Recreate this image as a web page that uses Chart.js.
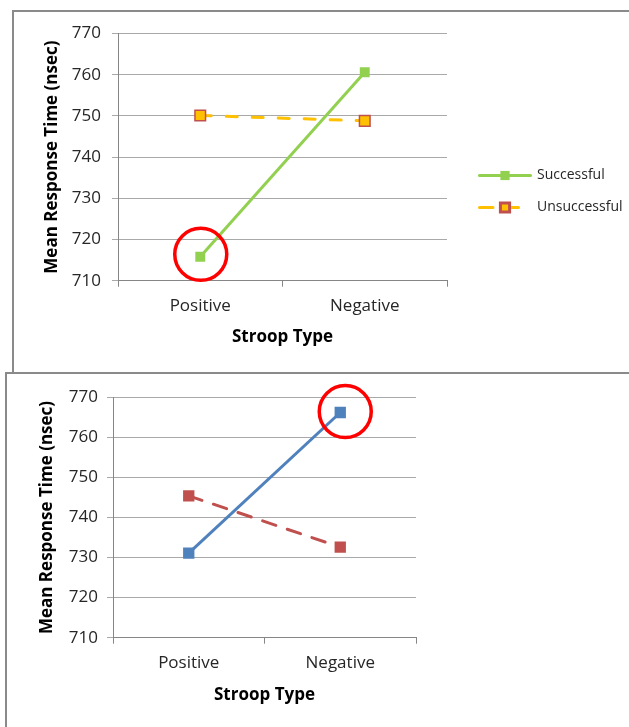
<!DOCTYPE html>
<html>
<head>
<meta charset="utf-8">
<script src="https://cdn.jsdelivr.net/npm/chart.js@4/dist/chart.umd.min.js"></script>
<style>
  html, body { margin: 0; padding: 0; background: #fff; overflow: hidden; width: 629px; height: 727px; }
  .panel { position: absolute; border-left: 2px solid #8a8a8a; border-top: 2px solid #8a8a8a; background: #fff; box-sizing: border-box; }
  canvas { position: absolute; left: 0; }
</style>
</head>
<body>
<div class="panel" style="left:12px; top:10px; width:640px; height:362px;"></div>
<canvas id="top" width="629" height="372" style="top:0"></canvas>
<div class="panel" style="left:5px; top:372px; width:640px; height:400px;"></div>
<canvas id="bottom" width="629" height="355" style="top:372px"></canvas>
<script>
// Categories and series
const categories = ['Positive', 'Negative'];
const successful = [715.8, 760.6];
const unsuccessful = [750.1, 748.8];
const engaged = [731.1, 766.2];
const notEngaged = [745.4, 732.6];

// Value axis ticks
const yTickValues = [710, 720, 730, 740, 750, 760, 770];

const xTitle = 'Stroop Type';
const yTitle = 'Mean Response Time (nsec)';

const FONT = "'Open Sans', 'DejaVu Sans', sans-serif";
const GRID = '#a9a9a9';
const AXIS = '#868686';
const TEXT = '#262626';

// Legend drawn as line + marker samples to the right of the plot
const seriesLegend = {
  id: 'seriesLegend',
  afterDraw(chart, args, opts) {
    const ctx = chart.ctx;
    chart.data.datasets.forEach((ds, i) => {
      const y = opts.top + i * opts.rowGap;
      const x0 = opts.left;
      const x1 = opts.left + opts.sampleWidth;
      const c = (x0 + x1) / 2;
      ctx.save();
      ctx.strokeStyle = ds.borderColor;
      ctx.lineWidth = ds.borderWidth;
      ctx.lineCap = 'round';
      ctx.beginPath();
      if (ds.borderDash && ds.borderDash.length) {
        ctx.moveTo(x0 + 1.5, y); ctx.lineTo(x0 + opts.dash, y);
        ctx.moveTo(c, y); ctx.lineTo(c + opts.dash - 1.5, y);
      } else {
        ctx.moveTo(x0 + 1.5, y); ctx.lineTo(x1 - 1.5, y);
      }
      ctx.stroke();
      ctx.fillStyle = ds.pointBackgroundColor;
      ctx.strokeStyle = ds.pointBorderColor;
      Chart.helpers.drawPoint(ctx, {
        pointStyle: 'rect', radius: opts.markerRadius,
        borderWidth: ds.pointBorderWidth, rotation: 0
      }, c, y);
      ctx.fillStyle = TEXT;
      ctx.font = opts.fontSize + 'px ' + FONT;
      ctx.textBaseline = 'middle';
      ctx.textAlign = 'left';
      ctx.fillText(ds.label, opts.textLeft, y);
      ctx.restore();
    });
  }
};

// Red ring around a highlighted point
const highlightRing = {
  id: 'highlightRing',
  afterDatasetsDraw(chart, args, opts) {
    const meta = chart.getDatasetMeta(opts.datasetIndex);
    const pt = meta.data[opts.index];
    if (!pt) return;
    const ctx = chart.ctx;
    ctx.save();
    ctx.strokeStyle = opts.color;
    ctx.lineWidth = opts.width;
    ctx.beginPath();
    ctx.arc(pt.x + opts.dx, pt.y + opts.dy, opts.radius, 0, Math.PI * 2);
    ctx.stroke();
    ctx.restore();
  }
};

function makeChart(id, datasets, geo, legendOpts, ringOpts) {
  return new Chart(document.getElementById(id), {
    type: 'line',
    data: { labels: categories, datasets },
    options: {
      responsive: false,
      animation: false,
      devicePixelRatio: 1,
      layout: { padding: { left: geo.padL, right: geo.padR, top: geo.padT, bottom: geo.padB } },
      plugins: {
        legend: { display: false },
        tooltip: { enabled: false },
        seriesLegend: legendOpts,
        highlightRing: ringOpts
      },
      elements: { line: { tension: 0 } },
      scales: {
        x: {
          type: 'category',
          offset: true,
          grid: { offset: true, drawOnChartArea: false, drawTicks: true, tickLength: 6, color: AXIS },
          border: { color: AXIS, width: 1 },
          ticks: { color: TEXT, font: { family: FONT, size: 17 }, padding: geo.xTickPad },
          title: { display: true, text: xTitle, color: '#000', font: { family: FONT, size: 17, weight: 'bold', lineHeight: 1.2 }, padding: { top: 4, bottom: 4 } },
          afterFit(scale) { scale.height = geo.xHeight; }
        },
        y: {
          min: yTickValues[0],
          max: yTickValues[yTickValues.length - 1],
          afterBuildTicks(scale) { scale.ticks = yTickValues.map(v => ({ value: v })); },
          grid: { color: GRID, tickLength: 6, drawTicks: true },
          border: { color: AXIS, width: 1 },
          ticks: { color: TEXT, font: { family: FONT, size: 17 }, padding: geo.yTickPad },
          title: { display: true, text: yTitle, color: '#000', font: { family: FONT, size: 17, weight: 'bold', lineHeight: 1.2 }, padding: { top: 4, bottom: 4 } },
          afterFit(scale) { scale.width = geo.yWidth; }
        }
      }
    },
    plugins: [seriesLegend, highlightRing]
  });
}

makeChart('top', [
  {
    label: 'Successful', data: successful,
    borderColor: '#92D050', borderWidth: 3,
    pointStyle: 'rect', pointRadius: 7, pointBackgroundColor: '#92D050', pointBorderColor: '#92D050', pointBorderWidth: 0
  },
  {
    label: 'Unsuccessful', data: unsuccessful,
    borderColor: '#FFC000', borderWidth: 3, borderDash: [11, 15], borderCapStyle: 'round',
    pointStyle: 'rect', pointRadius: 7.5, pointBackgroundColor: '#FFC000', pointBorderColor: '#C0504D', pointBorderWidth: 1.5
  }
], { padL: 37.8, yWidth: 80.2, padT: 33.5, padR: 182, padB: 20.5, xHeight: 70.8, xTickPad: 9, yTickPad: 11 },
{ left: 478, sampleWidth: 54, dash: 15, markerRadius: 6.5, textLeft: 537, top: 175.5, rowGap: 32, fontSize: 14 },
{ datasetIndex: 0, index: 0, dx: 0.5, dy: -2.5, radius: 26, width: 3.5, color: '#ff0000' });

makeChart('bottom', [
  {
    label: 'Engaged', data: engaged,
    borderColor: '#4F81BD', borderWidth: 3,
    pointStyle: 'rect', pointRadius: 8, pointBackgroundColor: '#4F81BD', pointBorderColor: '#4F81BD', pointBorderWidth: 0
  },
  {
    label: 'Not Engaged', data: notEngaged,
    borderColor: '#C0504D', borderWidth: 3, borderDash: [14, 12], borderCapStyle: 'round',
    pointStyle: 'rect', pointRadius: 8, pointBackgroundColor: '#C0504D', pointBorderColor: '#C0504D', pointBorderWidth: 0
  }
], { padL: 32.5, yWidth: 80.5, padT: 25.3, padR: 213, padB: 17.8, xHeight: 71.5, xTickPad: 9, yTickPad: 9 },
{ left: 447, sampleWidth: 56, dash: 15, markerRadius: 8, textLeft: 508, top: 535, rowGap: 36.7, fontSize: 17 },
{ datasetIndex: 0, index: 1, dx: 5, dy: -1, radius: 26, width: 3.5, color: '#ff0000' });
</script>
</body>
</html>
